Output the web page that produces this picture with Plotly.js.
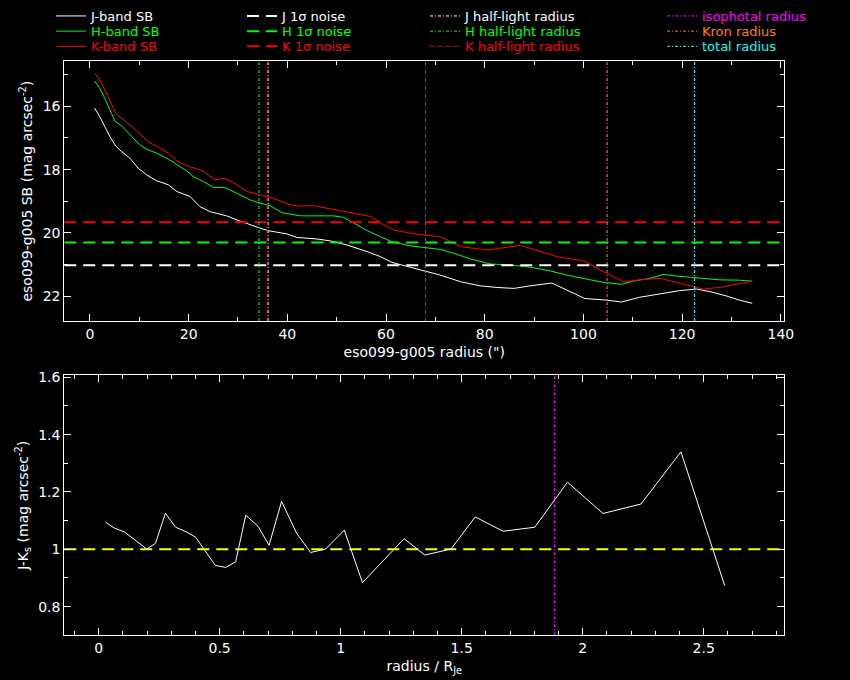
<!DOCTYPE html>
<html>
<head>
<meta charset="utf-8">
<script src="https://cdn.plot.ly/plotly-3.0.1.min.js"></script>
<style>
  body { margin: 0; background: #000; }
  #chart { width: 850px; height: 680px; }
</style>
</head>
<body>
<div id="chart"></div>
<script>
// surface brightness profiles (radius in arcsec, SB in mag arcsec^-2)
let rJ = [0.95,2.0,3.0,4.06,5.2,6.4,8.1,9.8,11.5,13.5,15.9,17.6,20.3,21.6,22.3,24.4,27.7,29.8,32.5,34.5,36.2,37.9,39.9,41.9,46.0,48.7,52.1,56.2,58.9,61.2,64.3,68.0,71.0,75.1,79.1,82.5,85.9,89.2,93.6,96.6,100.3,104.7,107.7,111.4,115.5,119.5,122.9,125.6,129.0,131.6,134.2]
let sbJ = [16.06,16.33,16.64,16.96,17.25,17.43,17.64,17.96,18.17,18.35,18.48,18.69,18.85,19.06,19.17,19.33,19.46,19.59,19.75,19.85,19.93,19.98,20.03,20.14,20.19,20.25,20.38,20.59,20.75,20.93,21.06,21.22,21.33,21.54,21.67,21.72,21.75,21.67,21.58,21.80,22.07,22.12,22.18,22.03,21.93,21.82,21.77,21.85,21.99,22.12,22.22]

let rH = [0.95,2.0,3.0,4.06,5.1,6.4,8.1,10.1,11.5,13.5,15.9,17.9,19.6,20.9,23.0,25.0,27.4,29.8,32.5,34.5,36.5,38.9,41.3,42.6,49.4,51.4,53.5,56.2,58.9,61.2,65.0,68.3,71.0,73.7,77.1,81.1,85.2,89.2,93.3,96.6,100.0,104.0,107.7,110.1,113.5,116.2,118.9,122.2,127.6,131.6,134.2]
let sbH = [15.21,15.43,15.75,16.12,16.48,16.62,16.91,17.22,17.36,17.48,17.67,17.88,18.04,18.22,18.38,18.56,18.57,18.75,18.96,19.06,19.14,19.36,19.43,19.46,19.46,19.51,19.69,19.93,20.12,20.28,20.41,20.48,20.52,20.64,20.82,20.98,21.01,21.08,21.20,21.33,21.44,21.56,21.62,21.52,21.43,21.31,21.36,21.41,21.48,21.49,21.52]

let rK = [0.95,2.0,3.0,4.06,5.2,6.4,8.1,10.1,11.8,14.2,15.9,17.6,19.6,21.6,23.0,25.4,27.1,29.1,31.8,34.5,37.2,39.9,41.9,45.3,48.0,51.4,54.8,56.8,58.9,61.6,65.0,68.0,71.0,75.1,80.5,87.2,90.6,94.6,100.0,104.0,108.1,111.4,115.5,119.5,124.2,127.6,131.6,134.2]
let sbK = [14.96,15.17,15.48,15.85,16.22,16.38,16.59,16.87,17.12,17.33,17.48,17.73,17.88,17.97,18.06,18.33,18.27,18.41,18.69,18.80,18.91,19.08,19.15,19.14,19.22,19.33,19.42,19.48,19.69,19.91,20.01,20.06,20.12,20.43,20.54,20.39,20.56,20.75,20.88,21.22,21.54,21.48,21.43,21.59,21.77,21.72,21.59,21.52]

// 1 sigma noise levels J, H, K
let noise = [21.02, 20.30, 19.66]
// half-light radii J, H, K (arcsec)
let halfLight = [36.1, 34.25, 35.9]
// isophotal, Kron, total radius (arcsec)
let otherRadii = [68.0, 104.8, 122.5]

// J-Ks colour profile vs radius / R_Je
let rNorm = [0.028,0.065,0.106,0.155,0.199,0.235,0.276,0.318,0.365,0.401,0.437,0.482,0.525,0.566,0.608,0.659,0.704,0.756,0.818,0.876,0.938,1.015,1.090,1.152,1.262,1.348,1.456,1.556,1.671,1.802,1.937,2.084,2.241,2.406,2.587]
let jk = [1.095,1.074,1.061,1.03,1.001,1.021,1.126,1.077,1.060,1.042,1.0,0.944,0.937,0.956,1.119,1.080,1.014,1.167,1.056,0.989,1.001,1.067,0.884,0.939,1.037,0.980,1.001,1.113,1.063,1.077,1.234,1.125,1.158,1.340,0.873]
let jkRef = 1.0

let xr1 = [-5.2, 140.7]
let yr1 = [22.78, 14.58]
let xr2 = [-0.142, 2.833]
let yr2 = [0.70, 1.607]

let cols = ['#ffffff', '#00ff00', '#ff0000']
let bands = ['J', 'H', 'K']
let radCols = ['#ff00ff', '#ff8000', '#00ffff']
let radNames = ['isophotal radius', 'Kron radius', 'total radius']

function lab(txt, c){
  return '<span style="color:' + c + '">' + txt + '</span>'
}

// one small legend per entry: column (0-3) and row (0-2)
let legendIds = []
function legId(col, row){
  let n = col * 3 + row + 1
  let id = n == 1 ? 'legend' : 'legend' + n
  legendIds.push([id, col, row])
  return id
}

let data = []
let prof = [[rJ, sbJ], [rH, sbH], [rK, sbK]]
for(let i = 0; i < 3; i++){
  data.push({x: prof[i][0], y: prof[i][1], mode: 'lines', line: {color: cols[i], width: 1},
    name: lab(bands[i] + '-band SB', cols[i]), legend: legId(0, i), xaxis: 'x', yaxis: 'y'})
}
for(let i = 0; i < 3; i++){
  data.push({x: xr1, y: [noise[i], noise[i]], mode: 'lines', line: {color: cols[i], width: 2, dash: '12px,7px'},
    name: lab(bands[i] + ' 1σ noise', cols[i]), legend: legId(1, i), xaxis: 'x', yaxis: 'y'})
}
for(let i = 0; i < 3; i++){
  data.push({x: [halfLight[i], halfLight[i]], y: yr1, mode: 'lines', line: {color: cols[i], width: 1, dash: '3px,2px,1px,2px'},
    name: lab(bands[i] + ' half-light radius', cols[i]), legend: legId(2, i), xaxis: 'x', yaxis: 'y'})
}
for(let i = 0; i < 3; i++){
  data.push({x: [otherRadii[i], otherRadii[i]], y: yr1, mode: 'lines', line: {color: radCols[i], width: 1, dash: '3px,2px,1px,2px'},
    name: lab(radNames[i], radCols[i]), legend: legId(3, i), xaxis: 'x', yaxis: 'y'})
}

// lower panel
data.push({x: xr2, y: [jkRef, jkRef], mode: 'lines', line: {color: '#ffff00', width: 2, dash: '12px,7px'},
  showlegend: false, xaxis: 'x2', yaxis: 'y2'})
let isoNorm = otherRadii[0] / halfLight[0]
data.push({x: [isoNorm, isoNorm], y: yr2, mode: 'lines', line: {color: '#ff00ff', width: 1, dash: '3px,2px,1px,2px'},
  showlegend: false, xaxis: 'x2', yaxis: 'y2'})
data.push({x: rNorm, y: jk, mode: 'lines', line: {color: '#ffffff', width: 1},
  showlegend: false, xaxis: 'x2', yaxis: 'y2'})

let fnt = {family: 'DejaVu Sans', size: 14, color: '#ffffff'}

function ax(range, dtick, minorDtick, dom, anchor, title, standoff){
  return {
    range: range, domain: dom, anchor: anchor, dtick: dtick,
    showgrid: false, zeroline: false,
    showline: true, linecolor: '#ffffff', linewidth: 1, mirror: 'ticks',
    ticks: 'inside', ticklen: 7, tickcolor: '#ffffff', tickwidth: 1,
    minor: {dtick: minorDtick, ticks: 'inside', ticklen: 4, tickcolor: '#ffffff', showgrid: false},
    tickfont: fnt,
    title: {text: title, font: fnt, standoff: standoff}
  }
}

let layout = {
  width: 850, height: 680,
  autosize: false,
  paper_bgcolor: '#000000',
  plot_bgcolor: '#000000',
  margin: {l: 0, r: 0, t: 0, b: 0},
  font: fnt,
  xaxis: ax(xr1, 20, 10, [0.0756, 0.9227], 'y', 'eso099-g005 radius (")', 6),
  yaxis: ax(yr1, 2, 1, [0.5279, 0.9099], 'x', 'eso099-g005 SB (mag arcsec<sup>-2</sup>)', 6),
  xaxis2: ax(xr2, 0.5, 0.1, [0.0756, 0.9227], 'y2', 'radius / R<sub>Je</sub>', 6),
  yaxis2: ax(yr2, 0.2, 0.1, [0.0657, 0.4481], 'x2', 'J-K<sub>s</sub> (mag arcsec<sup>-2</sup>)', 6),
  showlegend: true
}

// legend left edges (px) per column, legend tops (px) per row
let colX = [51, 242, 425, 662]
let rowTop = [1.0, 16.2, 31.4]
for(let [id, c, r] of legendIds){
  layout[id] = {x: colX[c] / 850, y: 1 - rowTop[r] / 680, xanchor: 'left', yanchor: 'top',
    bgcolor: 'rgba(0,0,0,0)', borderwidth: 0,
    font: {family: 'DejaVu Sans', size: 13, color: '#ffffff'}}
}

Plotly.newPlot('chart', data, layout, {displayModeBar: false})
</script>
</body>
</html>
